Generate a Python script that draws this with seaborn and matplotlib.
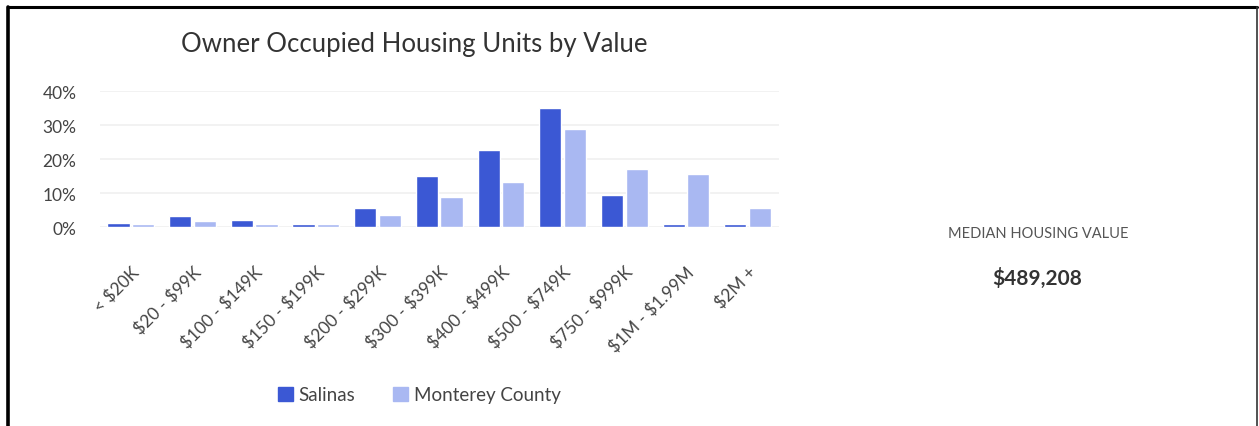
import matplotlib
matplotlib.use("Agg")
import matplotlib.pyplot as plt
from matplotlib.lines import Line2D
from matplotlib.ticker import FuncFormatter
import numpy as np
import pandas as pd
import seaborn as sns

# Share of owner-occupied housing units by home value bracket (%)
value_brackets = ["< $20K", "$20 - $99K", "$100 - $149K", "$150 - $199K",
                  "$200 - $299K", "$300 - $399K", "$400 - $499K",
                  "$500 - $749K", "$750 - $999K", "$1M - $1.99M", "$2M +"]
salinas = [1.1, 3.3, 2.0, 1.0, 5.6, 14.9, 22.6, 35.0, 9.5, 1.0, 1.0]
monterey_county = [1.0, 1.8, 1.0, 1.0, 3.5, 8.8, 13.3, 28.7, 17.2, 15.7, 5.6]
series_names = ["Salinas", "Monterey County"]
y_ticks = [0, 10, 20, 30, 40]
median_label = "MEDIAN HOUSING VALUE"
median_value = "$489,208"

df = pd.DataFrame({
    "bracket": value_brackets * 2,
    "share": salinas + monterey_county,
    "area": [series_names[0]] * len(value_brackets) + [series_names[1]] * len(value_brackets),
})

sns.set_theme(style="white")
plt.rcParams["font.family"] = ["Lato", "DejaVu Sans"]
plt.rcParams["text.parse_math"] = False

fig = plt.figure(figsize=(12.59, 4.27), dpi=100)
ax = fig.add_axes([0.0794, 0.466, 0.539, 0.3185])

palette = {"Salinas": "#3b58d4", "Monterey County": "#a9b8f2"}
sns.barplot(data=df, x="bracket", y="share", hue="area", palette=palette,
            order=value_brackets, hue_order=series_names, saturation=1,
            width=0.8, gap=0.1, ax=ax, legend=False)

ax.set_ylim(0, 40)
ax.set_xlim(-0.5, len(value_brackets) - 0.5)
ax.set_yticks(y_ticks)
ax.yaxis.set_major_formatter(FuncFormatter(lambda v, _: f"{v:.0f}%"))
ax.grid(axis="y", color="#f0f0f0", linewidth=1.2)
ax.set_axisbelow(True)
for s in ax.spines.values():
    s.set_visible(False)
ax.set_xlabel("")
ax.set_ylabel("")
ax.tick_params(axis="y", length=0, pad=17, labelsize=12.5, labelcolor="#444444")
ax.tick_params(axis="x", length=0, pad=26, labelsize=12.5, labelcolor="#444444")
for lab in ax.get_xticklabels():
    lab.set_rotation(45)
    lab.set_ha("right")
    lab.set_rotation_mode("anchor")

fig.text(0.329, 0.895, "Owner Occupied Housing Units by Value", ha="center", va="center",
         fontsize=18.5, color="#333333")

handles = [plt.Rectangle((0, 0), 1, 1, color=palette[n]) for n in series_names]
fig.legend(handles, series_names, loc="center", bbox_to_anchor=(0.333, 0.073),
           ncol=2, frameon=False, fontsize=13.5, handlelength=0.8, handleheight=0.8,
           handletextpad=0.3, columnspacing=2.0, labelcolor="#444444")

fig.text(0.825, 0.452, median_label, ha="center", va="center",
         fontsize=10.5, color="#555555")
fig.text(0.824, 0.347, median_value, ha="center", va="center",
         fontsize=15, color="#333333", fontweight="bold")

# frame lines around the panel
fig.add_artist(Line2D([0.0063, 0.9985], [0.981, 0.981], color="black", linewidth=2.2,
                      transform=fig.transFigure))
fig.add_artist(Line2D([0.0064, 0.0064], [0.0, 0.981], color="black", linewidth=2.6,
                      transform=fig.transFigure))
fig.add_artist(Line2D([0.9985, 0.9985], [0.0, 0.981], color="#333333", linewidth=1.2,
                      transform=fig.transFigure))

fig.savefig("out.png", dpi=100, facecolor="white")
